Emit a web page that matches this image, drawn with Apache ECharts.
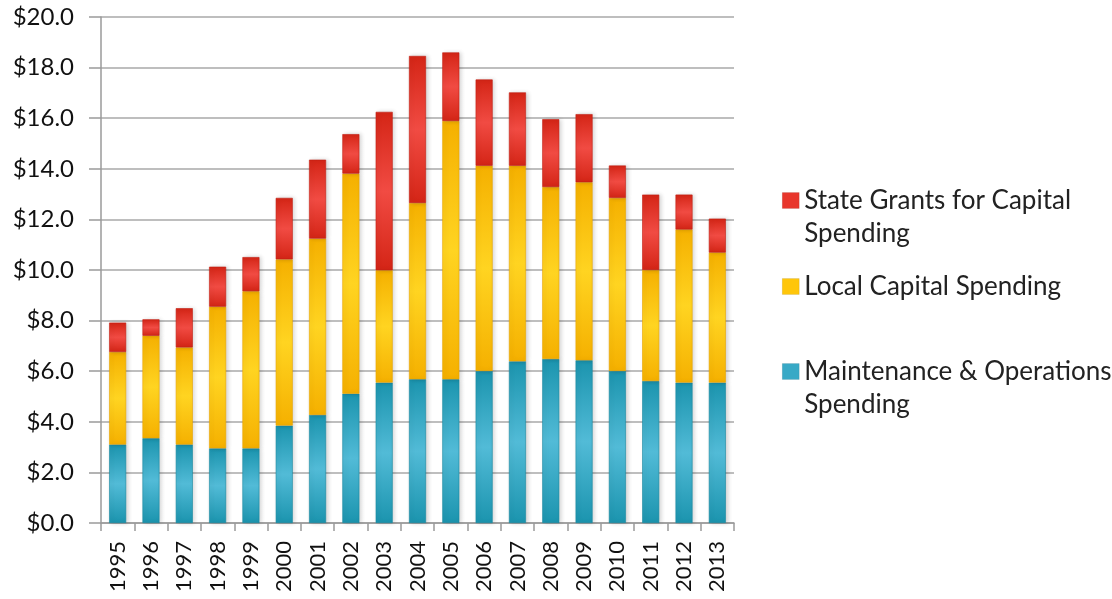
<!DOCTYPE html>
<html>
<head>
<meta charset="utf-8">
<script src="https://cdn.jsdelivr.net/npm/echarts@6/dist/echarts.min.js"></script>
<style>
html, body { margin: 0; padding: 0; background: #fff; }
#chart { width: 1112px; height: 599px; }
</style>
</head>
<body>
<div id="chart"></div>
<script>
var years = ['1995', '1996', '1997', '1998', '1999', '2000', '2001', '2002', '2003', '2004',
	'2005', '2006', '2007', '2008', '2009', '2010', '2011', '2012', '2013'];
// billions of dollars
var maintenanceOps = [3.1, 3.35, 3.1, 2.95, 2.95, 3.85, 4.27, 5.11, 5.55, 5.68,
	5.68, 6.01, 6.39, 6.48, 6.43, 6.01, 5.61, 5.55, 5.55];
var localCapital = [3.66, 4.05, 3.84, 5.6, 6.21, 6.57, 6.97, 8.7, 4.44, 6.97,
	10.21, 8.11, 7.73, 6.8, 7.04, 6.84, 4.39, 6.05, 5.14];
var stateGrants = [1.16, 0.65, 1.55, 1.58, 1.35, 2.43, 3.12, 1.56, 6.26, 5.81,
	2.71, 3.41, 2.9, 2.68, 2.69, 1.28, 2.98, 1.38, 1.34];
var yTicks = [0, 2, 4, 6, 8, 10, 12, 14, 16, 18, 20];

var FONT = 'Lato';

function barGrad(dark, light) {
	return new echarts.graphic.LinearGradient(0, 0, 0, 1, [
		{ offset: 0, color: dark },
		{ offset: 0.5, color: light },
		{ offset: 1, color: dark }
	]);
}

function makeSeries(name, data, dark, light, edge) {
	return {
		name: name,
		type: 'bar',
		stack: 'total',
		barWidth: 17,
		data: data,
		itemStyle: {
			color: barGrad(dark, light),
			borderColor: edge,
			borderWidth: 0.6,
			shadowColor: 'rgba(0,0,0,0.16)',
			shadowBlur: 4,
			shadowOffsetX: 2
		},
		emphasis: { disabled: true }
	};
}

// a leading empty line keeps the icon next to the first line of a two-line label
function makeLegend(name, top, iconColor) {
	return {
		orient: 'vertical',
		left: 782,
		top: top,
		padding: 0,
		itemWidth: 17,
		itemHeight: 16,
		icon: 'rect',
		data: [name],
		selectedMode: false,
		itemStyle: { color: iconColor, borderColor: 'rgba(0,0,0,0.15)', borderWidth: 0.5 },
		formatter: function (n) {
			if (n === 'State Grants for Capital Spending') return '\nState Grants for Capital\nSpending';
			if (n === 'Maintenance & Operations Spending') return '\nMaintenance & Operations\nSpending';
			return n;
		},
		textStyle: {
			fontFamily: FONT,
			fontSize: 26,
			color: '#222',
			lineHeight: 33
		}
	};
}

var chart = echarts.init(document.getElementById('chart'));
chart.setOption({
	animation: false,
	backgroundColor: '#fff',
	color: ['#3aabc8', '#ffc90a', '#e53a30'],
	grid: { left: 101, right: 378, top: 17, bottom: 76 },
	legend: [
		makeLegend('State Grants for Capital Spending', 151, '#e8362c'),
		makeLegend('Local Capital Spending', 270, '#ffc60a'),
		makeLegend('Maintenance & Operations Spending', 322, '#38a9c6')
	],
	xAxis: {
		type: 'category',
		data: years,
		axisLine: { lineStyle: { color: '#9a9a9a', width: 1.5 } },
		axisTick: { show: true, length: 8, lineStyle: { color: '#9a9a9a', width: 1.5 } },
		axisLabel: {
			rotate: 90,
			margin: 18,
			fontFamily: FONT,
			fontSize: 22,
			color: '#111'
		}
	},
	yAxis: {
		type: 'value',
		min: yTicks[0],
		max: yTicks[yTicks.length - 1],
		interval: 2,
		axisLine: { show: true, lineStyle: { color: '#9a9a9a', width: 1.5 } },
		axisTick: { show: true, length: 12, lineStyle: { color: '#9a9a9a', width: 1.5 } },
		splitLine: { lineStyle: { color: '#a8a8a8', width: 1.5 } },
		axisLabel: {
			margin: 27,
			fontFamily: FONT,
			fontSize: 24,
			color: '#111',
			formatter: function (v) { return '$' + v.toFixed(1); }
		}
	},
	series: [
		makeSeries('Maintenance & Operations Spending', maintenanceOps, '#1b94ae', '#52bbd7', '#17889f'),
		makeSeries('Local Capital Spending', localCapital, '#f5b000', '#ffd421', '#e8a400'),
		makeSeries('State Grants for Capital Spending', stateGrants, '#d42516', '#f14b43', '#c21e12')
	]
});
</script>
</body>
</html>
